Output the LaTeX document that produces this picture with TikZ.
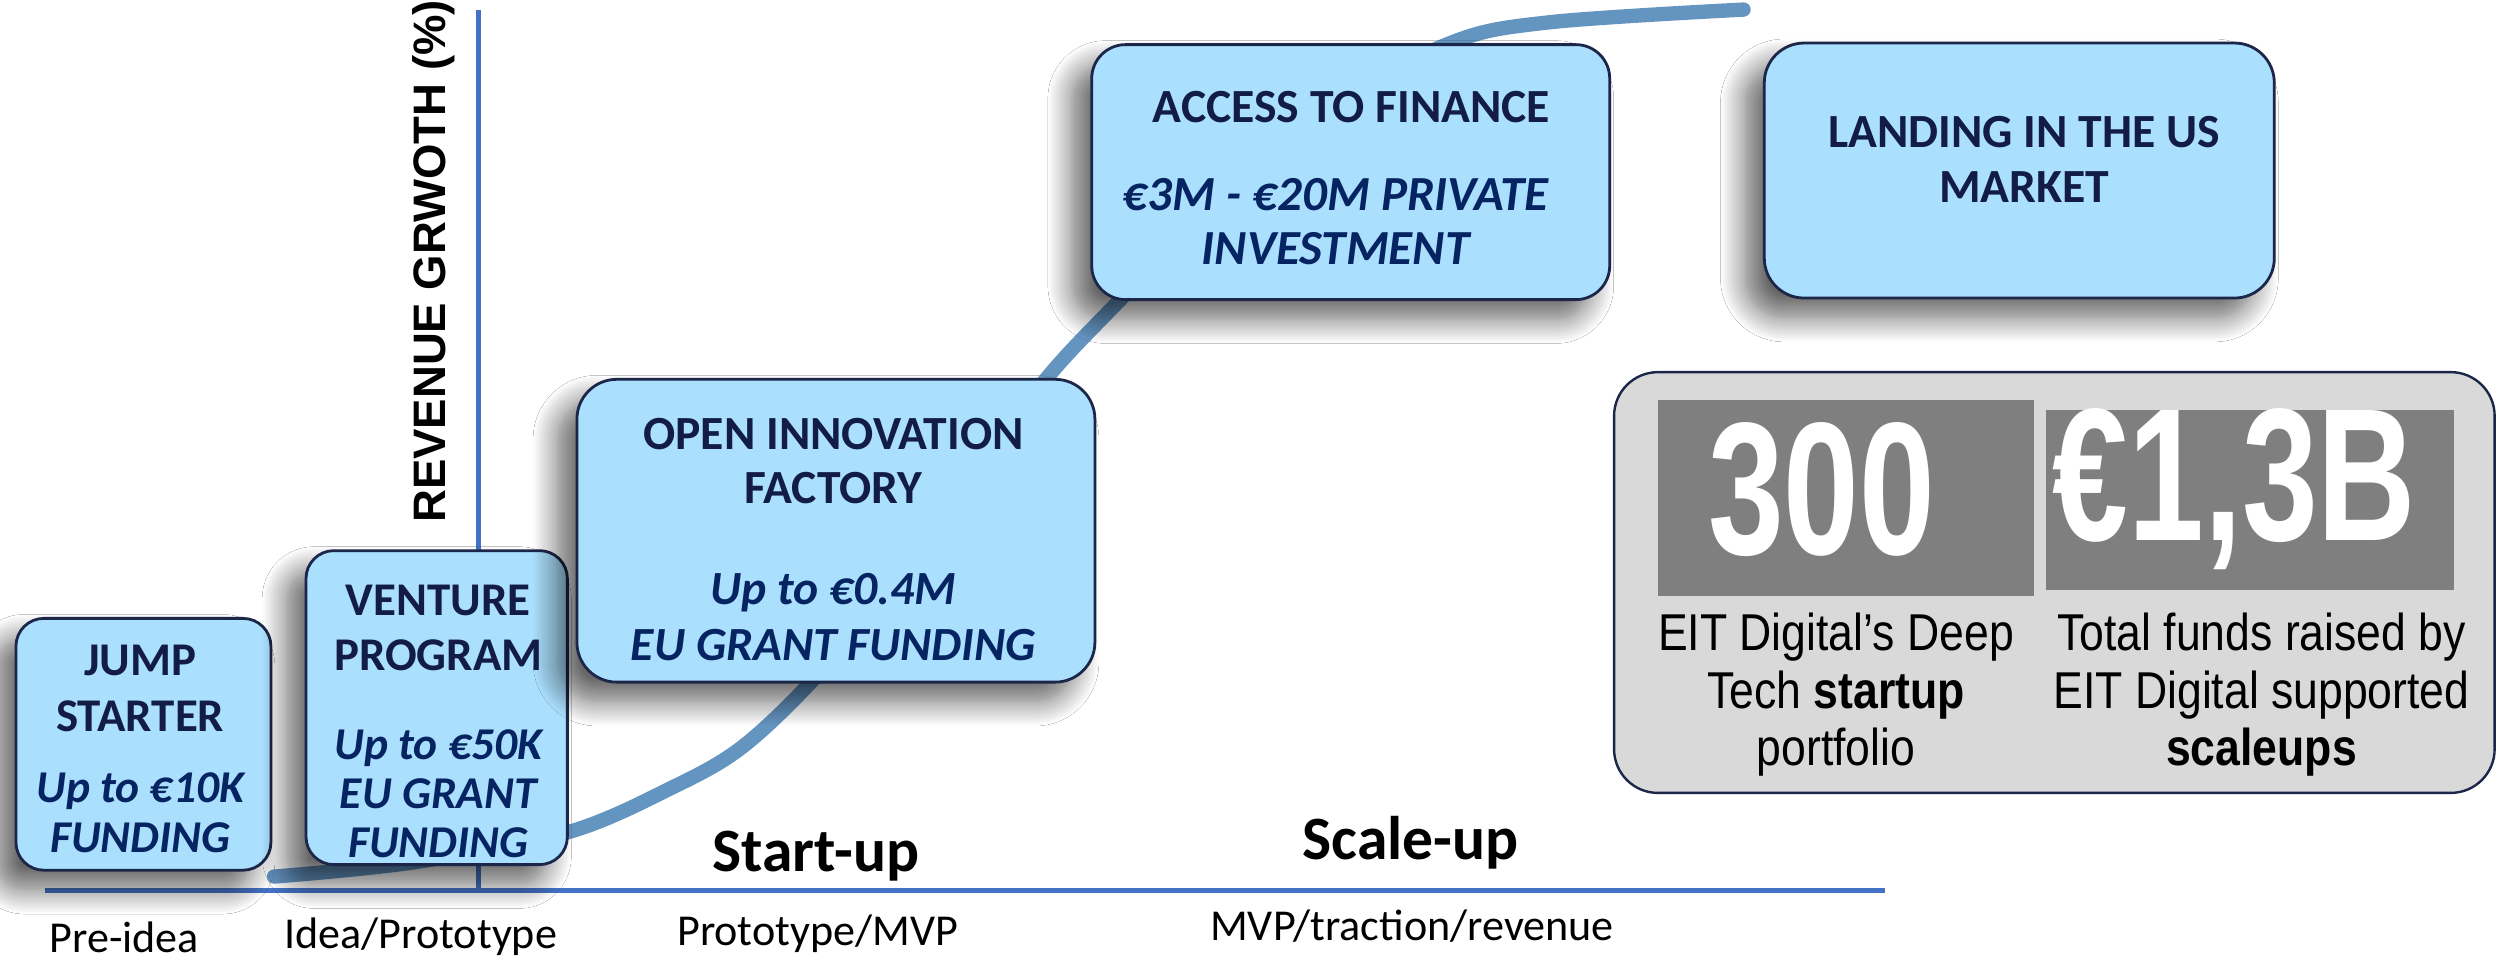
\documentclass[tikz,border=0pt]{standalone}
\usepackage{fontspec}
\setmainfont{Carlito}
\newfontfamily\arialfont{Liberation Sans}
\newfontfamily\statnum[FakeStretch=0.72]{Liberation Sans}
\newfontfamily\capfont[FakeStretch=0.86]{Liberation Sans}
\usetikzlibrary{shadows.blur}
\definecolor{boxfill}{RGB}{170,223,253}
\definecolor{boxline}{RGB}{28,38,72}
\definecolor{titlecol}{RGB}{18,28,68}
\definecolor{italcol}{RGB}{6,36,98}
\definecolor{axiscol}{RGB}{68,114,196}
\definecolor{curvecol}{RGB}{100,148,192}
\definecolor{panelfill}{RGB}{217,217,217}
\definecolor{statfill}{RGB}{127,127,127}
\tikzset{
  stagebox/.style={draw=boxline, line width=0.7mm, fill=boxfill, rounded corners=10mm,
    blur shadow={shadow xshift=-5mm, shadow yshift=-5mm, shadow blur radius=6mm, shadow blur steps=14, shadow opacity=60}},
  smallbox/.style={stagebox, rounded corners=7mm},
  titletext/.style={text=titlecol, align=center, inner sep=0pt},
  italtext/.style={text=italcol, align=center, inner sep=0pt},
  axisline/.style={draw=axiscol, line width=1.2mm},
  stagelabel/.style={text=black, inner sep=0pt, font=\fontsize{31.5}{38}\selectfont},
  phaselabel/.style={text=black, inner sep=0pt, font=\fontsize{44}{50}\selectfont\bfseries},
  statbox/.style={fill=statfill, draw=none, inner sep=0pt},
  stattext/.style={text=white, inner sep=0pt, font=\statnum\fontsize{135}{140}\selectfont\bfseries},
  captext/.style={text=black, align=center, inner sep=0pt, font=\capfont\fontsize{37}{41}\selectfont},
}
\begin{document}
\begin{tikzpicture}[x=0.4mm,y=-0.4mm]
\path[use as bounding box, fill=white] (0,0) rectangle (1568,604);

% growth curve
\draw[draw=curvecol, line width=3.6mm, line cap=round]
  plot[smooth, tension=0.55] coordinates {(172,550) (260,541) (357,522) (422,494) (464,470) (506,431) (560,370) (610,300) (657,237) (701,190) (760,130) (830,70) (910,27) (972,14) (1094,6)};

% axes
\coordinate (hstart) at (28,558.5);
\coordinate (hend) at (1183,558.5);
\coordinate (vtop) at (300,6);
\coordinate (vbot) at (300,558.5);
\draw[axisline] (hstart) -- (hend);
\draw[axisline] (vbot) -- (vtop);
\node[rotate=90, inner sep=0pt, font=\arialfont\fontsize{32.5}{36}\selectfont\bfseries] (ylabel) at (272,164) {REVENUE GRWOTH (\%)};

% stage boxes
\node[smallbox, minimum width=64mm, minimum height=63.2mm] (jump) at (90,467) {};
\node[smallbox, minimum width=65.6mm, minimum height=78.8mm] (venture) at (274,444) {};
\node[stagebox, minimum width=130mm, minimum height=76mm] (oif) at (524.5,333) {};
\node[stagebox, minimum width=130mm, minimum height=64mm, rounded corners=8.5mm] (access) at (847.5,108) {};
\node[stagebox, minimum width=128mm, minimum height=64mm] (landing) at (1267,107) {};

\node[titletext, font=\fontsize{33.5}{39.5}\selectfont\bfseries] (jumpT) at (88,432) {JUMP\\STARTER};
\node[italtext, font=\fontsize{32.5}{35.5}\selectfont\bfseries\itshape] (jumpI) at (88,510) {Up to €10K\\FUNDING};
\node[titletext, font=\fontsize{33.5}{39}\selectfont\bfseries] (ventT) at (275,394) {VENTURE\\PROGRAM};
\node[italtext, font=\fontsize{32.5}{35}\selectfont\bfseries\itshape] (ventI) at (275,498) {Up to €50K\\EU GRANT\\FUNDING};
\node[titletext, font=\fontsize{34}{38.6}\selectfont\bfseries] (oifT) at (523,289) {OPEN INNOVATION\\FACTORY};
\node[italtext, font=\fontsize{34}{40}\selectfont\bfseries\itshape] (oifI) at (523,387) {Up to €0.4M\\EU GRANT FUNDING};
\node[titletext, font=\fontsize{34}{39}\selectfont\bfseries] (accT) at (848,67) {ACCESS TO FINANCE};
\node[italtext, font=\fontsize{35}{39}\selectfont\bfseries\itshape] (accI) at (838,139) {€3M - €20M PRIVATE\\INVESTMENT};
\node[titletext, font=\fontsize{34}{38.6}\selectfont\bfseries] (landT) at (1270,100) {LANDING IN THE US\\MARKET};

% phase labels
\node[phaselabel] (startup) at (512,537) {Start-up};
\node[phaselabel] (scaleup) at (885,529) {Scale-up};
\node[stagelabel] (preidea) at (78,588) {Pre-idea};
\node[stagelabel] (idea) at (264,588) {Idea/Prototype};
\node[stagelabel] (proto) at (513,586) {Prototype/MVP};
\node[stagelabel] (mvp) at (886,581) {MVP/traction/revenue};

% stats panel
\node[draw=boxline, line width=0.6mm, fill=panelfill, rounded corners=11mm, minimum width=221mm, minimum height=105.6mm, inner sep=0pt] (panel) at (1289,365.5) {};
\node[statbox, minimum width=94.4mm, minimum height=49.2mm] (box300) at (1158,312.5) {};
\node[statbox, minimum width=102.4mm, minimum height=45.2mm] (boxfunds) at (1412,313.5) {};
\node[stattext] (n300) at (1143,307) {300};
\node[stattext] (nfunds) at (1402,307) {€1,3B};
\node[captext] (cap300) at (1152,436) {EIT Digital’s Deep\\Tech \textbf{startup}\\portfolio};
\node[captext] (capfunds) at (1419,436) {Total funds raised by\\EIT Digital supported\\\textbf{scaleups}};
\end{tikzpicture}
\end{document}
